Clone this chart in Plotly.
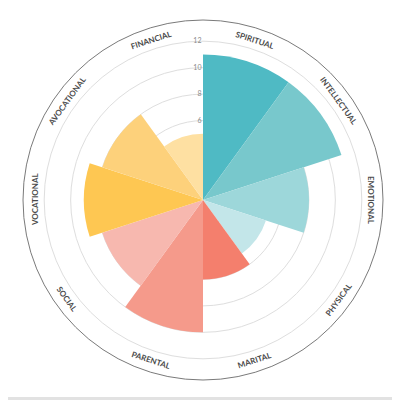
import math
import plotly.graph_objects as go

categories = ["SPIRITUAL", "INTELLECTUAL", "EMOTIONAL", "PHYSICAL", "MARITAL",
              "PARENTAL", "SOCIAL", "VOCATIONAL", "AVOCATIONAL", "FINANCIAL"]
scores = [11, 11, 8, 5, 6, 10, 8, 9, 8, 5]
colors = ["#4FBAC4", "#78C8CC", "#9DD7DA", "#C3E6E9", "#F47F6D",
          "#F59A8B", "#F7B8AF", "#FEC752", "#FDD17B", "#FEE0A2"]
radial_ticks = [2, 4, 6, 8, 10, 12]

W = H = 400
cx, cy = 195, 192          # centre in figure pixels (page adds 8px offset)
R_out = 180                # outer circle radius in pixels
r_max = 13.6               # radial value at outer circle

fig = go.Figure()
fig.add_trace(go.Barpolar(
    r=scores, theta=categories,
    marker=dict(color=colors, line=dict(width=0)),
    hoverinfo="theta+r",
))

annotations = []
n = len(categories)
label_r = 168
for i, c in enumerate(categories):
    ang = (i + 0.5) * 360 / n
    a = math.radians(ang)
    x = (cx + label_r * math.sin(a)) / W
    y = 1 - (cy - label_r * math.cos(a)) / H
    if 90 < ang < 270:
        rot = ang - 180
    elif ang >= 270:
        rot = ang - 360
    else:
        rot = ang
    annotations.append(dict(
        x=x, y=y, xref="paper", yref="paper", text=c, showarrow=False,
        textangle=rot, xanchor="center", yanchor="middle",
        font=dict(family="Lato", size=8, color="#4a4a4a", weight=700),
    ))

fig.update_layout(
    width=W, height=H,
    margin=dict(l=0, r=0, t=0, b=0),
    paper_bgcolor="white",
    showlegend=False,
    polar=dict(
        domain=dict(x=[(cx - R_out) / W, (cx + R_out) / W],
                    y=[1 - (cy + R_out) / H, 1 - (cy - R_out) / H]),
        bgcolor="white",
        bargap=0,
        radialaxis=dict(
            range=[0, r_max], tickvals=radial_ticks,
            ticktext=[str(v) for v in radial_ticks],
            showline=False, ticks="", angle=90, tickangle=90,
            side="counterclockwise",
            gridcolor="#dedede", gridwidth=1,
            tickfont=dict(family="Lato", size=7, color="#8a8a8a"),
            layer="below traces",
        ),
        angularaxis=dict(
            rotation=72, direction="clockwise",
            showticklabels=False, ticks="", showgrid=False,
            showline=True, linecolor="#7a7a7a", linewidth=1,
        ),
    ),
    annotations=annotations,
    shapes=[dict(type="rect", xref="paper", yref="paper",
                 x0=-0.03, x1=1.0, y0=0.0165, y1=0.0275,
                 fillcolor="#e2e2e2", line=dict(width=0))],
)

fig.write_html("out.html")
